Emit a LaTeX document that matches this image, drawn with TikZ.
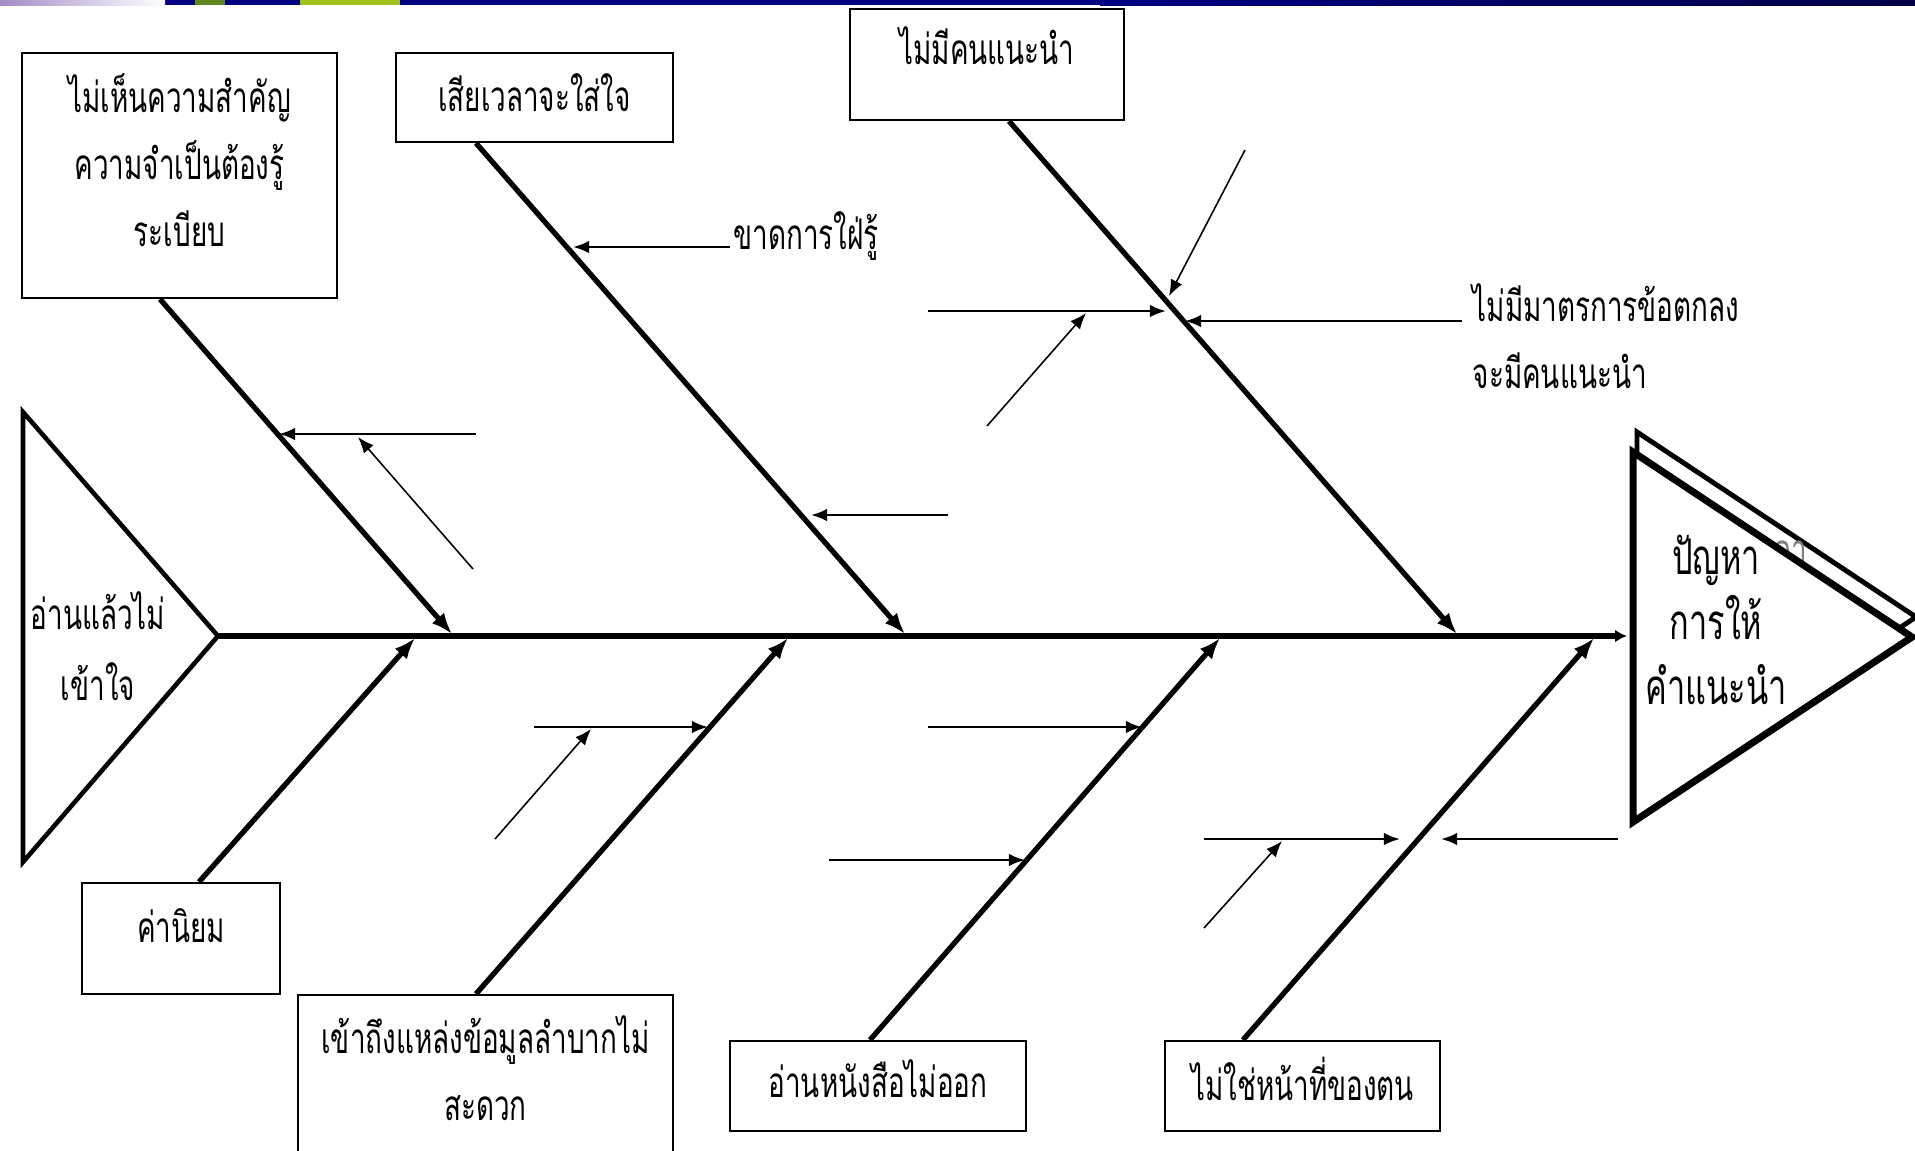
\documentclass[tikz,border=0pt]{standalone}
\usepackage{fontspec}
\newfontfamily\thai[Script=Thai,FakeStretch=0.66]{Loma}
\usetikzlibrary{arrows.meta}
\definecolor{navy}{RGB}{0,0,130}
\definecolor{lilac}{RGB}{165,140,200}
\definecolor{leaf}{RGB}{120,170,40}

\begin{document}
\begin{tikzpicture}
[x=0.01cm,y=-0.01cm,
  every node/.style={font=\thai\fontsize{12}{19}\selectfont,align=center,inner sep=0pt},
  box/.style={draw,line width=0.6pt,fill=white},
  bone/.style={line width=1.5pt,-{Latex[length=6pt,width=4.6pt]}},
  twig/.style={line width=0.7pt,-{Latex[length=4.6pt,width=3.6pt]}},
  hair/.style={line width=0.45pt,-{Latex[length=4.6pt,width=3.6pt]}}]
\clip (0,0) rectangle (1915,1150);
\useasboundingbox (0,0) rectangle (1915,1150);

\fill[navy] (0,0) rectangle (1915,5);
\shade[left color=navy,right color=navy!55!black] (1100,0) rectangle (1915,5);
\shade[left color=lilac,right color=white] (0,0) rectangle (165,5);
\fill[leaf!80!black] (195,0) rectangle (225,5);
\fill[leaf!70!yellow] (300,0) rectangle (400,5);

\draw[line width=1.3pt,line join=miter] (23,412) -- (218,636) -- (23,862) -- cycle;
\node (tail) at (98,646) {อ่านแล้วไม่\\[1.2pt]เข้าใจ};

\coordinate (t0) at (218,636);
\coordinate (tip) at (1627,636);
\coordinate (s1) at (452,634);
\coordinate (s2) at (905,634);
\coordinate (s3) at (1457,634);
\coordinate (s4) at (415,638);
\coordinate (s5) at (788,638);
\coordinate (s6) at (1220,638);
\coordinate (s7) at (1594,638);
\draw[line width=1.6pt,-{Latex[length=3.4pt,width=3.6pt]}] (t0) -- (tip);

\node[box,minimum width=3.15cm,minimum height=2.45cm,text depth=9pt] (a) at (179.5,175.5)
  {ไม่เห็นความสำคัญ\\ความจำเป็นต้องรู้\\ระเบียบ};
\node[box,minimum width=2.77cm,minimum height=0.89cm,text depth=3pt] (b) at (534.5,97.5) {เสียเวลาจะใส่ใจ};
\node[box,minimum width=2.74cm,minimum height=1.11cm,text depth=10.7pt] (c) at (987,64.5) {ไม่มีคนแนะนำ};
\node[box,minimum width=1.98cm,minimum height=1.11cm,text depth=7.3pt] (d) at (181,938.5) {ค่านิยม};
\node[box,minimum width=3.75cm,minimum height=1.6cm,text depth=4pt] (e) at (485.5,1075)
  {เข้าถึงแหล่งข้อมูลลำบากไม่\\สะดวก};
\node[box,minimum width=2.96cm,minimum height=0.9cm,text depth=4pt] (f) at (878,1086) {อ่านหนังสือไม่ออก};
\node[box,minimum width=2.75cm,minimum height=0.9cm,text depth=4pt] (g) at (1302.5,1086) {ไม่ใช่หน้าที่ของตน};

\draw[bone] ([xshift=-0.195cm]a.south) -- (s1);
\draw[bone] ([xshift=-0.585cm]b.south) -- (s2);
\draw[bone] ([xshift=0.22cm]c.south) -- (s3);
\draw[bone] ([xshift=0.18cm]d.north) -- (s4);
\draw[bone] ([xshift=-0.095cm]e.north) -- (s5);
\draw[bone] ([xshift=-0.08cm]f.north) -- (s6);
\draw[bone] ([xshift=-0.595cm]g.north) -- (s7);

\coordinate (a1) at (476,434);  \coordinate (a1t) at (279,434);
\coordinate (a2) at (473,569);  \coordinate (a2t) at (358,437);
\coordinate (b1) at (730,247);  \coordinate (b1t) at (573,247);
\coordinate (b2) at (948,515);  \coordinate (b2t) at (811,515);
\coordinate (c1) at (1245,150); \coordinate (c1t) at (1169,296);
\coordinate (c2) at (928,311);  \coordinate (c2t) at (1166,311);
\coordinate (c3) at (987,426);  \coordinate (c3t) at (1086,313);
\coordinate (c4) at (1462,321); \coordinate (c4t) at (1185,321);
\coordinate (e1) at (534,727);  \coordinate (e1t) at (708,727);
\coordinate (e2) at (495,839);  \coordinate (e2t) at (591,729);
\coordinate (f1) at (928,727);  \coordinate (f1t) at (1142,727);
\coordinate (f2) at (829,860);  \coordinate (f2t) at (1025,860);
\coordinate (g1) at (1204,839); \coordinate (g1t) at (1400,839);
\coordinate (g2) at (1204,928); \coordinate (g2t) at (1282,841);
\coordinate (g3) at (1618,839); \coordinate (g3t) at (1441,839);

\draw[twig] (a1) -- (a1t);
\draw[hair] (a2) -- (a2t);
\draw[twig] (b1) -- (b1t);
\draw[twig] (b2) -- (b2t);
\draw[hair] (c1) -- (c1t);
\draw[twig] (c2) -- (c2t);
\draw[hair] (c3) -- (c3t);
\draw[twig] (c4) -- (c4t);
\draw[twig] (e1) -- (e1t);
\draw[hair] (e2) -- (e2t);
\draw[twig] (f1) -- (f1t);
\draw[twig] (f2) -- (f2t);
\draw[twig] (g1) -- (g1t);
\draw[hair] (g2) -- (g2t);
\draw[twig] (g3) -- (g3t);

\node[anchor=west] (b1l) at (733,236) {ขาดการใฝ่รู้};
\node[anchor=west] (c4l) at (1472,303) {ไม่มีมาตรการข้อตกลง};
\node[anchor=west] (c5l) at (1472,371) {จะมีคนแนะนำ};

\draw[line width=1.4pt,fill=white,line join=miter] (1637,432) -- (1916,617) -- (1637,802) -- cycle;
\node[gray] (hidden) at (1790,553) {ดา};
\draw[line width=2pt,fill=white,line join=miter] (1633,452) -- (1912,637) -- (1633,822) -- cycle;
\node[font=\thai\fontsize{14}{18.5}\selectfont] (head) at (1716,620) {ปัญหา\\การให้\\คำแนะนำ};
\end{tikzpicture}
\end{document}
